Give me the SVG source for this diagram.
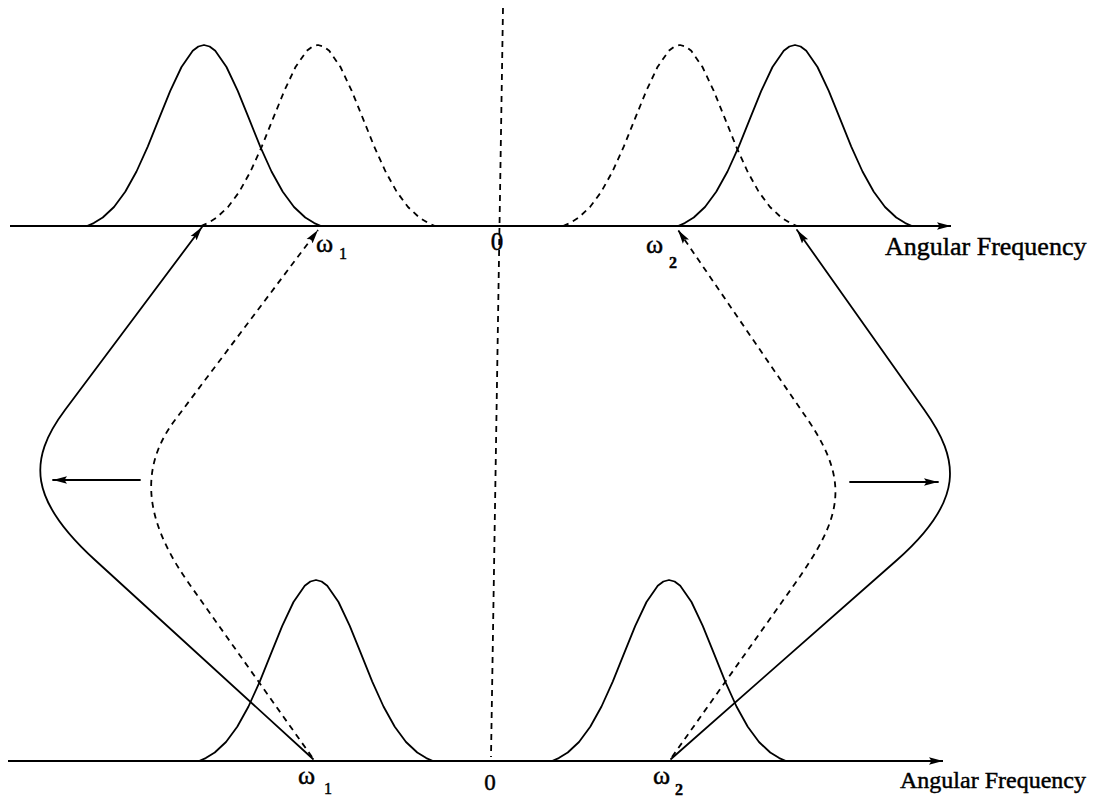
<svg xmlns="http://www.w3.org/2000/svg" xmlns:xlink="http://www.w3.org/1999/xlink" width="1099" height="796" viewBox="0 0 1099 796">
<style>
.ln{fill:none;stroke:#000;stroke-width:1.8;stroke-linejoin:round;stroke-linecap:round}
.ax{fill:none;stroke:#000;stroke-width:2}
.ds{stroke-dasharray:6 5;stroke-linecap:butt}
.tx{font-family:"Liberation Serif","Times New Roman",serif;fill:#000;stroke:#000;stroke-width:0.45}
</style>
<defs>
<marker id="ah" markerUnits="userSpaceOnUse" markerWidth="15" markerHeight="9" refX="14" refY="4.5" orient="auto">
<path d="M0,0.8 L14,4.5 L0,8.2 L2.5,4.5 z" fill="#000"/>
</marker>
<path id="gauss" d="M-117,0 L-110.25,-2.9 L-101.25,-8.5 L-90,-19 L-78.75,-34.2 L-67.5,-54.5 L-56.25,-79.4 L-45,-107.3 L-33.75,-135.1 L-22.5,-159 L-11.25,-175.2 L-5.6,-179.5 L0,-181 L5.6,-179.5 L11.25,-175.2 L22.5,-159 L33.75,-135.1 L45,-107.3 L56.25,-79.4 L67.5,-54.5 L78.75,-34.2 L90,-19 L101.25,-8.5 L110.25,-2.9 L117,0"/>
</defs>
<rect width="1099" height="796" fill="#fff"/>

<g id="axis-top">
<line class="ax" x1="10" y1="226" x2="951" y2="226" marker-end="url(#ah)"/>
<text class="tx" x="885" y="255" font-size="26">Angular Frequency</text>
</g>
<g id="axis-bottom">
<line class="ax" x1="8" y1="761" x2="943" y2="761" marker-end="url(#ah)"/>
<text class="tx" x="900" y="788" font-size="24">Angular Frequency</text>
</g>
<g id="center-line">
<line class="ln ds" x1="503" y1="8" x2="491" y2="757"/>
</g>

<g id="top-left-solid"><use href="#gauss" xlink:href="#gauss" class="ln" x="204" y="226"/></g>
<g id="top-left-dashed"><use href="#gauss" xlink:href="#gauss" class="ln ds" x="318" y="226"/></g>
<g id="top-right-dashed"><use href="#gauss" xlink:href="#gauss" class="ln ds" x="680" y="226"/></g>
<g id="top-right-solid"><use href="#gauss" xlink:href="#gauss" class="ln" x="795" y="226"/></g>
<g id="bottom-left"><use href="#gauss" xlink:href="#gauss" class="ln" x="316" y="761"/></g>
<g id="bottom-right"><use href="#gauss" xlink:href="#gauss" class="ln" x="669" y="761"/></g>

<g id="labels">
<text class="tx" x="316" y="252" font-size="26">ω</text>
<text class="tx" x="339" y="259" font-size="16">1</text>
<text class="tx" x="497" y="250" font-size="25" text-anchor="middle">0</text>
<text class="tx" x="646" y="253" font-size="26">ω</text>
<text class="tx" x="669" y="268" font-size="16" font-weight="bold">2</text>
<text class="tx" x="298" y="784" font-size="26">ω</text>
<text class="tx" x="324" y="794" font-size="16">1</text>
<text class="tx" x="490" y="790" font-size="23" text-anchor="middle">0</text>
<text class="tx" x="653" y="784" font-size="26">ω</text>
<text class="tx" x="675" y="795" font-size="16" font-weight="bold">2</text>
</g>

<g id="connectors">
<path class="ln" d="M313,759 L95,560 C29,500 27.5,460 65,410 L202,227" marker-end="url(#ah)"/>
<path class="ln ds" d="M312,757 L190,585 C151,530 133.6,475 175,420 L318,230" marker-end="url(#ah)"/>
<path class="ln" d="M671,759 L897,560 C965,500 960,460 924.4,410 L797,230" marker-end="url(#ah)"/>
<path class="ln ds" d="M672,757 L794,585 C840,520 852,485 808,420 L678,230" marker-end="url(#ah)"/>
<line class="ln" x1="140" y1="480" x2="53" y2="480" marker-end="url(#ah)"/>
<line class="ln" x1="850" y1="482" x2="938" y2="482" marker-end="url(#ah)"/>
</g>
</svg>
